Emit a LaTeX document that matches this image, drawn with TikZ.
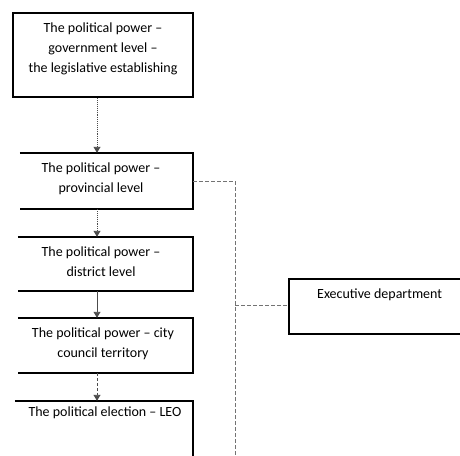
\documentclass[tikz,border=0pt]{standalone}
\usepackage{fontspec}
\setmainfont{Carlito}
\usetikzlibrary{fit,arrows.meta}
\begin{document}
\begin{tikzpicture}[x=1pt,y=1pt,
  thickbox/.style={draw=black,line width=2.6pt,inner sep=0pt},
  openbox/.style={inner sep=0pt},
  boxline/.style={draw=black,line width=1.6pt},
  txt/.style={font=\fontsize{14}{20}\selectfont,align=center,text=black,inner sep=0pt},
  flow/.style={draw=black!70,line width=0.9pt,-{Triangle[length=6pt,width=7pt]}},
  link/.style={draw=black!55,line width=0.8pt,dashed,dash pattern=on 4pt off 2pt}]
\useasboundingbox (0,0) rectangle (460,-455);
\fill[white] (0,0) rectangle (460,-455);
\clip (0,0) rectangle (460,-455);
% boxes
\node[thickbox,fit={(13,-13) (193,-97)}] (b1) {};
\node[openbox,fit={(20,-153) (193,-209)}] (b2) {};
\node[openbox,fit={(18,-237) (193,-291)}] (b3) {};
\node[openbox,fit={(18,-318) (193,-373)}] (b4) {};
\node[openbox,fit={(15,-401) (193,-470)}] (b5) {};
\node[openbox,fit={(289,-279) (475,-334)}] (ex) {};
\draw[boxline] (b2.north west) -- (b2.north east) -- (b2.south east) -- (b2.south west);
\draw[boxline] (b3.north west) -- (b3.north east) -- (b3.south east) -- (b3.south west);
\draw[boxline] (b4.north west) -- (b4.north east) -- (b4.south east) -- (b4.south west);
\draw[boxline] (b5.north west) -- (b5.north east) -- (b5.south east);
\draw[boxline] (ex.north east) -- (ex.north west) -- (ex.south west) -- (ex.south east);
% texts
\node[txt] (t1) at (103,-49) {The political power –\\government level –\\the legislative establishing};
\node[txt] (t2) at (101,-179) {The political power –\\provincial level};
\node[txt] (t3) at (101,-262) {The political power –\\district level};
\node[txt] (t4) at (103,-344) {The political power – city\\council territory};
\node[txt] (t5) at (105,-413) {The political election – LEO};
\node[txt,anchor=west] (t6) at (317,-295) {Executive department};
% flow arrows
\draw[flow,densely dotted] (b1.south -| 97,0) -- (b2.north -| 97,0);
\draw[flow,densely dotted] (b2.south -| 97,0) -- (b3.north -| 97,0);
\draw[flow] (b3.south -| 97,0) -- (b4.north -| 97,0);
\draw[flow,densely dashed] (b4.south -| 97,0) -- (b5.north -| 97,0);
% side links
\coordinate (v1) at (235,-181);
\coordinate (v2) at (235,-305);
\coordinate (v3) at (235,-460);
\draw[link] (b2.east |- v1) -- (v1);
\draw[link] (v1) -- (v3);
\draw[link] (v2) -- (ex.west |- v2);
\end{tikzpicture}
\end{document}
